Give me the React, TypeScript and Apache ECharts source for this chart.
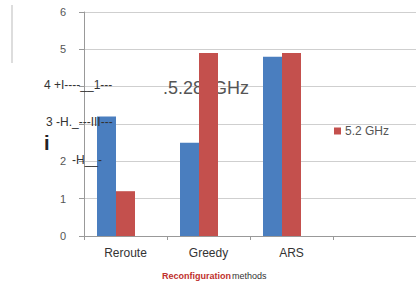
import React, { useEffect, useRef } from "react";
import * as echarts from "echarts";

const categories = ["Reroute", "Greedy", "ARS", ""];
const blueValues = [3.2, 2.5, 4.8, null];
const redValues = [1.2, 4.9, 4.9, null];
const thirdValues = [null, null, null, null];
const yTickLabels = ["0", "1", "2", "", "", "5", "6"];
const legendNames = ["5.2 GHz"];
const xAxisTitle = ["Reconfiguration", "methods"];

export default function App() {
  const ref = useRef<HTMLDivElement>(null);
  useEffect(() => {
    const chart = echarts.init(ref.current!, null, { renderer: "svg" });
    chart.setOption({
      animation: false,
      backgroundColor: "#ffffff",
      grid: { left: 84, right: -5, top: 12, bottom: 55, containLabel: false },
      legend: {
        data: legendNames,
        left: 329,
        top: 120,
        itemWidth: 7,
        itemHeight: 7,
        itemGap: 4,
        icon: "rect",
        textStyle: { fontFamily: "Liberation Sans", fontSize: 12, color: "#555", padding: [0, 0, 0, -1] },
      },
      xAxis: {
        type: "category",
        data: categories,
        axisLine: { lineStyle: { color: "#999" } },
        axisTick: { show: true, length: 4, lineStyle: { color: "#999" } },
        axisLabel: { fontFamily: "Liberation Sans", fontSize: 12, color: "#333", margin: 11 },
      },
      yAxis: {
        type: "value",
        min: 0,
        max: 6,
        interval: 1,
        axisLine: { show: true, lineStyle: { color: "#999" } },
        axisTick: { show: true, length: 5, lineStyle: { color: "#999" } },
        axisLabel: {
          fontFamily: "Liberation Sans",
          fontSize: 11,
          color: "#555",
          margin: 18,
          formatter: (v: number) => yTickLabels[Math.round(v)],
        },
        splitLine: { lineStyle: { color: "#cfcfcf" } },
      },
      series: [
        { name: "Series 1", type: "bar", data: blueValues, barWidth: 19, barGap: "0%", itemStyle: { color: "#4a7ebf" }, z: 3 },
        { name: "5.2 GHz", type: "bar", data: redValues, barWidth: 19, barGap: "0%", itemStyle: { color: "#c4504d" }, z: 3 },
        { name: "Series 3", type: "bar", data: thirdValues, barWidth: 19, barGap: "0%", itemStyle: { color: "#9bbb59" }, z: 3 },
      ],
      graphic: [
        { type: "line", shape: { x1: 12, y1: 5, x2: 12, y2: 63 }, style: { stroke: "#bbb", lineWidth: 1 } },
        { type: "text", x: 163, y: 79, z: 1, style: { text: ".5.28  GHz", font: "18px 'Liberation Sans'", fill: "#555" } },
        { type: "text", x: 44, y: 79, z: 10, style: { text: "4 +I----__1---", font: "12px 'Liberation Sans'", fill: "#333" } },
        { type: "text", x: 46, y: 116, z: 10, style: { text: "3 -H._---III---", font: "12px 'Liberation Sans'", fill: "#333" } },
        { type: "text", x: 44, y: 133, z: 10, style: { text: "i", font: "bold 20px 'Liberation Sans'", fill: "#222" } },
        { type: "text", x: 72, y: 154, z: 10, style: { text: "-H__-", font: "12px 'Liberation Sans'", fill: "#333" } },
        { type: "text", x: 162, y: 271, style: { text: xAxisTitle[0], font: "bold 9px 'Liberation Sans'", fill: "#c0302d" } },
        { type: "text", x: 232, y: 271, style: { text: xAxisTitle[1], font: "9px 'Liberation Sans'", fill: "#333" } },
      ],
    });
    return () => chart.dispose();
  }, []);
  return <div ref={ref} style={{ width: 416, height: 291, position: "absolute", left: 0, top: 0 }} />;
}
